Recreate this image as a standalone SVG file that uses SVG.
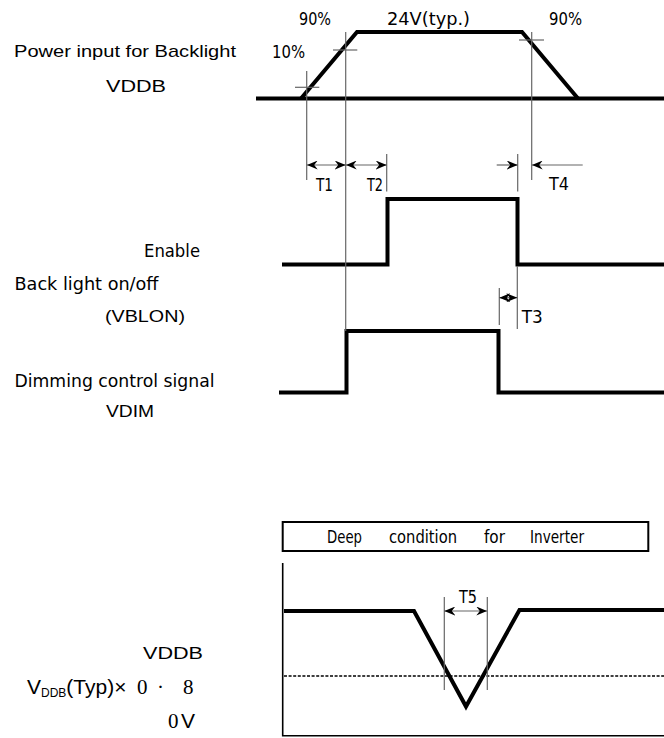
<svg xmlns="http://www.w3.org/2000/svg" width="664" height="738" viewBox="0 0 664 738">
<defs>
<style>
.sig{fill:none;stroke:#000;stroke-width:4;stroke-linejoin:miter}
.thin{fill:none;stroke:#666;stroke-width:1.2}
.ax{fill:none;stroke:#000;stroke-width:1.6}
.arr{fill:none;stroke:#666;stroke-width:1.2}
.c{font-family:"DejaVu Sans Condensed","DejaVu Sans",sans-serif;font-size:17px;fill:#000}
.a{font-family:"Liberation Sans",Arial,sans-serif;font-size:17px;fill:#000}
.s{font-family:"Liberation Serif","Times New Roman",serif;font-size:21px;fill:#000}
.big{font-size:21px}
.sub{font-size:12px}
</style>
<marker id="ah" viewBox="0 0 11 9" refX="11" refY="4.5" markerWidth="11" markerHeight="9" markerUnits="userSpaceOnUse" orient="auto-start-reverse">
<path d="M0,0 L11,4.5 L0,9 L3.5,4.5 Z" fill="#000"/>
</marker>
</defs>
<rect width="664" height="738" fill="#fff"/>

<g id="labels">
<text class="a" x="14" y="57" textLength="222" lengthAdjust="spacingAndGlyphs">Power input for Backlight</text>
<text class="a" x="106" y="91.5" textLength="60" lengthAdjust="spacingAndGlyphs">VDDB</text>
<text class="c" x="144" y="257" textLength="56" lengthAdjust="spacingAndGlyphs">Enable</text>
<text class="c" x="14.5" y="290" textLength="144" lengthAdjust="spacingAndGlyphs">Back light on/off</text>
<text class="a" x="105" y="321.5" textLength="80" lengthAdjust="spacingAndGlyphs">(VBLON)</text>
<text class="c" x="14.5" y="386.5" textLength="200" lengthAdjust="spacingAndGlyphs">Dimming control signal</text>
<text class="a" x="106" y="416.5" textLength="48" lengthAdjust="spacingAndGlyphs">VDIM</text>
<text class="a" x="143" y="659" textLength="60" lengthAdjust="spacingAndGlyphs">VDDB</text>
<text class="a big" x="27" y="694"><tspan>V</tspan><tspan class="sub" dy="3">DDB</tspan><tspan dy="-3">(Typ)×</tspan><tspan class="s" x="137">0</tspan><tspan class="s" x="157">·</tspan><tspan class="s" x="183">8</tspan></text>
<text x="168" y="728"><tspan class="s">0</tspan><tspan class="a big" x="181">V</tspan></text>
</g>

<g id="vddb-signal">
<line class="sig" x1="256" y1="98.5" x2="664" y2="98.5"/>
<polyline class="sig" points="301,98.5 357,32 522,32 578,98.5"/>
<text class="c" x="299" y="25" textLength="32" lengthAdjust="spacingAndGlyphs">90%</text>
<text class="c" x="272" y="58" textLength="33" lengthAdjust="spacingAndGlyphs">10%</text>
<text class="c" x="387" y="25" textLength="83" lengthAdjust="spacingAndGlyphs">24V(typ.)</text>
<text class="c" x="549" y="25" textLength="33" lengthAdjust="spacingAndGlyphs">90%</text>
</g>

<g id="enable-signal">
<polyline class="sig" points="282,264.5 387.5,264.5 387.5,199 517.5,199 517.5,264.5 664,264.5"/>
</g>

<g id="vdim-signal">
<polyline class="sig" points="279,392.5 346.5,392.5 346.5,331 498.5,331 498.5,392.5 664,392.5"/>
</g>

<g id="inverter-box">
<rect x="282.7" y="522" width="365.6" height="29" fill="none" stroke="#000" stroke-width="2"/>
<text class="c" y="543"><tspan x="327" textLength="35" lengthAdjust="spacingAndGlyphs">Deep</tspan><tspan x="389" textLength="68" lengthAdjust="spacingAndGlyphs">condition</tspan><tspan x="484" textLength="21" lengthAdjust="spacingAndGlyphs">for</tspan><tspan x="530" textLength="54" lengthAdjust="spacingAndGlyphs">Inverter</tspan></text>
</g>

<g id="deep-signal">
<polyline class="ax" points="282.7,563 282.7,735.7 664,735.7"/>
<polyline class="sig" stroke-width="3.5" points="284,611 414,611 466,706.5 519.5,610 664,610"/>
<line x1="284" y1="676" x2="664" y2="676" stroke="#000" stroke-width="1.6" stroke-dasharray="3,1.6"/>
</g>

<g id="connectors">
<line class="thin" x1="306.7" y1="71" x2="306.7" y2="180"/>
<line class="thin" x1="345.7" y1="32" x2="345.7" y2="331"/>
<line class="thin" x1="386.7" y1="154" x2="386.7" y2="191.5"/>
<line class="thin" x1="517.7" y1="154" x2="517.7" y2="191.5"/>
<line class="thin" x1="531.7" y1="32" x2="531.7" y2="180"/>
<line class="thin" x1="499.3" y1="288" x2="499.3" y2="325"/>
<line class="thin" x1="517.3" y1="266" x2="517.3" y2="329"/>
<line class="thin" x1="444.3" y1="597" x2="444.3" y2="690"/>
<line class="thin" x1="487.3" y1="597" x2="487.3" y2="690"/>
<line class="thin" stroke="#000" x1="295" y1="87.3" x2="319.3" y2="87.3"/>
<line class="thin" stroke="#000" x1="333" y1="50" x2="357.3" y2="50"/>
<line class="thin" x1="519" y1="40" x2="544" y2="40"/>
<line class="arr" x1="306.7" y1="165" x2="345.7" y2="165" marker-start="url(#ah)" marker-end="url(#ah)"/>
<line class="arr" x1="345.7" y1="165" x2="386.7" y2="165" marker-start="url(#ah)" marker-end="url(#ah)"/>
<line class="arr" x1="496.7" y1="165" x2="517.7" y2="165" marker-end="url(#ah)"/>
<line class="arr" x1="582.7" y1="165" x2="531.7" y2="165" marker-end="url(#ah)"/>
<line class="arr" x1="499.3" y1="297.7" x2="517.3" y2="297.7" marker-start="url(#ah)" marker-end="url(#ah)"/>
<line class="arr" stroke="#000" x1="444.3" y1="611" x2="487.3" y2="611" marker-start="url(#ah)" marker-end="url(#ah)"/>
<text class="c" x="316" y="190.5" textLength="17" lengthAdjust="spacingAndGlyphs">T1</text>
<text class="c" x="367" y="190.5" textLength="16" lengthAdjust="spacingAndGlyphs">T2</text>
<text class="c" x="549" y="190" textLength="20" lengthAdjust="spacingAndGlyphs">T4</text>
<text class="c" x="521.7" y="322.5" textLength="21" lengthAdjust="spacingAndGlyphs">T3</text>
<text class="c" x="459" y="602.5" textLength="18" lengthAdjust="spacingAndGlyphs">T5</text>
</g>
</svg>
